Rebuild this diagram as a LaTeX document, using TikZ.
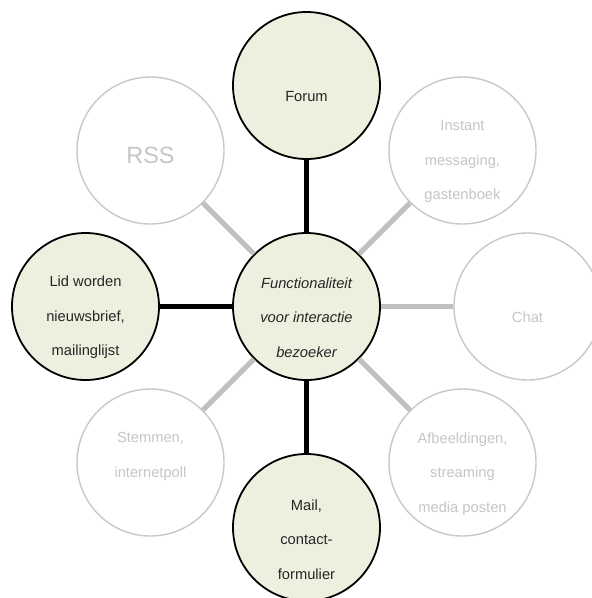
\documentclass[tikz,border=0pt]{standalone}
\usepackage{fontspec}
\setmainfont{Liberation Sans}
\definecolor{leafgreen}{HTML}{EBF1DE}
\definecolor{paleline}{HTML}{C0C0C0}
\definecolor{palering}{HTML}{C8C8C8}
\definecolor{paletext}{HTML}{C6C6C6}
\begin{document}
\begin{tikzpicture}[x=1pt,y=-1pt,
  bubble/.style={circle, minimum size=147pt, inner sep=0pt},
  activebubble/.style={bubble, draw=black, line width=1.8pt, fill=leafgreen},
  idlebubble/.style={bubble, draw=palering, line width=1.4pt, fill=white},
  caption/.style={align=center, inner sep=0pt, font=\fontsize{14.7}{34.5}\selectfont},
  activecaption/.style={caption, text=black!85},
  idlecaption/.style={caption, text=paletext},
  strongline/.style={line width=5.5pt, draw=black},
  weakline/.style={line width=5pt, draw=paleline}]
\useasboundingbox (0,0) rectangle (592,598);
\clip (0,0) rectangle (592,598);

% circles
\node[activebubble] (hub)   at (306.5,306.5) {};
\node[activebubble] (forum) at (306.5,85.5)  {};
\node[activebubble] (mail)  at (306.5,527.5) {};
\node[activebubble] (lid)   at (85.5,306.5)  {};
\node[idlebubble]   (chat)  at (527.5,306.5) {};
\node[idlebubble]   (rss)   at (150.5,150.5) {};
\node[idlebubble]   (im)    at (462.5,150.5) {};
\node[idlebubble]   (poll)  at (150.5,462.5) {};
\node[idlebubble]   (media) at (462.5,462.5) {};

% spokes
\draw[strongline] (hub) -- (forum);
\draw[strongline] (hub) -- (mail);
\draw[strongline] (hub) -- (lid);
\draw[weakline] (hub) -- (chat);
\draw[weakline] (hub) -- (rss);
\draw[weakline] (hub) -- (im);
\draw[weakline] (hub) -- (poll);
\draw[weakline] (hub) -- (media);

% captions
\node[activecaption, font=\fontsize{14.7}{34.5}\selectfont\itshape] (hubtext) at (306.5,317.5)
  {Functionaliteit\\voor interactie\\bezoeker};
\node[activecaption] (forumtext) at (306.5,96.5) {Forum};
\node[activecaption] (mailtext) at (306.5,539.5) {Mail,\\contact-\\formulier};
\node[activecaption] (lidtext) at (85.5,317.5) {Lid worden\\nieuwsbrief,\\mailinglijst};
\node[idlecaption] (chattext) at (527.5,317.5) {Chat};
\node[idlecaption, font=\fontsize{23.5}{28}\selectfont] (rsstext) at (150.5,155.5) {RSS};
\node[idlecaption] (imtext) at (462.5,161.5) {Instant\\messaging,\\gastenboek};
\node[idlecaption] (polltext) at (150.5,456.5) {Stemmen,\\internetpoll};
\node[idlecaption] (mediatext) at (462.5,474) {Afbeeldingen,\\streaming\\media posten};
\end{tikzpicture}
\end{document}
